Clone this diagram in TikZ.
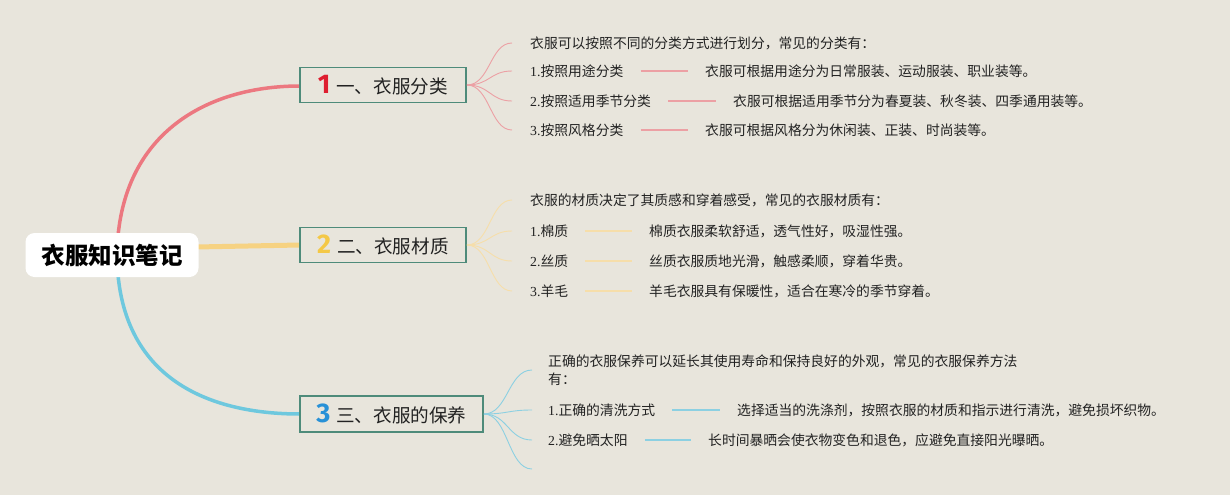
\documentclass[tikz,border=0pt]{standalone}
\usepackage{fontspec}
\setmainfont{Noto Sans CJK SC}
\newfontfamily\latn{Liberation Serif}
\newfontfamily\numf{Fira Sans}
\definecolor{bg}{RGB}{232,229,220}
\definecolor{boxline}{RGB}{78,139,122}
\definecolor{pinkm}{RGB}{236,120,128}
\definecolor{pinkl}{RGB}{236,160,164}
\definecolor{yelm}{RGB}{246,210,130}
\definecolor{yell}{RGB}{246,222,170}
\definecolor{bluem}{RGB}{110,200,222}
\definecolor{bluel}{RGB}{140,208,226}
\definecolor{nred}{RGB}{222,30,48}
\definecolor{nyel}{RGB}{244,200,70}
\definecolor{nblue}{RGB}{40,145,215}
\definecolor{txt}{RGB}{34,34,34}
\tikzset{
  rootbox/.style={fill=white,rounded corners=9pt,minimum width=173pt,minimum height=44pt,inner sep=0pt,font=\fontsize{23.5}{25}\selectfont\bfseries,text=black},
  catbox/.style={draw=boxline,line width=1.8pt,fill=bg,minimum height=35pt,inner sep=0pt,anchor=west,font=\fontsize{18.6}{20}\selectfont,text=txt},
  leaf/.style={anchor=west,inner sep=0pt,font=\fontsize{13.8}{18}\selectfont,text=txt},
  mainline/.style={line width=3.5pt},
  fan/.style={line width=0.9pt},
  link/.style={line width=1.2pt,shorten <=17pt,shorten >=17pt},
}
\newcommand{\nm}[2]{{\numf\bfseries\fontsize{27}{27}\selectfont\color{#1}#2}}
\newcommand{\la}[1]{{\latn #1}}
\begin{document}
\begin{tikzpicture}[x=1pt,y=-1pt]
\fill[bg] (0,0) rectangle (1230,495);
\useasboundingbox (0,0) rectangle (1230,495);

% main branches
\draw[mainline,pinkm] (118,236) .. controls (128,130) and (210,86) .. (300,86);
\draw[line width=5pt,yelm] (196,247) -- (300,245);
\draw[mainline,bluem] (118,275) .. controls (128,380) and (210,414) .. (300,414);

\node[rootbox] (root) at (112,255) {衣服知识笔记};

\node[catbox,minimum width=166pt] (c1) at (299,85) {\nm{nred}{1}\hspace{6pt}一、衣服分类};
\node[catbox,minimum width=166pt] (c2) at (299,245) {\nm{nyel}{2}\hspace{6pt}二、衣服材质};
\node[catbox,minimum width=183pt,minimum height=36pt] (c3) at (299,414) {\nm{nblue}{3}\hspace{6pt}三、衣服的保养};

% branch 1
\foreach \n/\y in {a/43,b/71,c/101,d/130}{
  \coordinate (p1\n) at (512,\y);
  \draw[fan,pinkl] (c1.east) .. controls (490,85) and (490,\y) .. (p1\n);
}
\node[leaf] (t1a) at (530,43) {衣服可以按照不同的分类方式进行划分，常见的分类有：};
\node[leaf] (t1b) at (530,71) {\la{1.}按照用途分类};
\node[leaf] (d1b) at (705,71) {衣服可根据用途分为日常服装、运动服装、职业装等。};
\node[leaf] (t1c) at (530,101) {\la{2.}按照适用季节分类};
\node[leaf] (d1c) at (733,101) {衣服可根据适用季节分为春夏装、秋冬装、四季通用装等。};
\node[leaf] (t1d) at (530,130) {\la{3.}按照风格分类};
\node[leaf] (d1d) at (705,130) {衣服可根据风格分为休闲装、正装、时尚装等。};
\draw[link,pinkl] (t1b.east) -- (d1b.west);
\draw[link,pinkl] (t1c.east) -- (d1c.west);
\draw[link,pinkl] (t1d.east) -- (d1d.west);

% branch 2
\foreach \n/\y in {a/200,b/231,c/261,d/291}{
  \coordinate (p2\n) at (512,\y);
  \draw[fan,yell] (c2.east) .. controls (490,245) and (490,\y) .. (p2\n);
}
\node[leaf] (t2a) at (530,200) {衣服的材质决定了其质感和穿着感受，常见的衣服材质有：};
\node[leaf] (t2b) at (530,231) {\la{1.}棉质};
\node[leaf] (d2b) at (649,231) {棉质衣服柔软舒适，透气性好，吸湿性强。};
\node[leaf] (t2c) at (530,261) {\la{2.}丝质};
\node[leaf] (d2c) at (649,261) {丝质衣服质地光滑，触感柔顺，穿着华贵。};
\node[leaf] (t2d) at (530,291) {\la{3.}羊毛};
\node[leaf] (d2d) at (649,291) {羊毛衣服具有保暖性，适合在寒冷的季节穿着。};
\draw[link,yell] (t2b.east) -- (d2b.west);
\draw[link,yell] (t2c.east) -- (d2c.west);
\draw[link,yell] (t2d.east) -- (d2d.west);

% branch 3
\foreach \n/\y in {a/370,b/410,c/440,d/469}{
  \coordinate (p3\n) at (532,\y);
  \draw[fan,bluel] (c3.east) .. controls (508,414) and (508,\y) .. (p3\n);
}
\node[leaf,align=left] (t3a) at (548,370) {正确的衣服保养可以延长其使用寿命和保持良好的外观，常见的衣服保养方法\\有：};
\node[leaf] (t3b) at (548,410) {\la{1.}正确的清洗方式};
\node[leaf] (d3b) at (737,410) {选择适当的洗涤剂，按照衣服的材质和指示进行清洗，避免损坏织物。};
\node[leaf] (t3c) at (548,440) {\la{2.}避免晒太阳};
\node[leaf] (d3c) at (708,440) {长时间暴晒会使衣物变色和退色，应避免直接阳光曝晒。};
\draw[link,bluel] (t3b.east) -- (d3b.west);
\draw[link,bluel] (t3c.east) -- (d3c.west);
\end{tikzpicture}
\end{document}
